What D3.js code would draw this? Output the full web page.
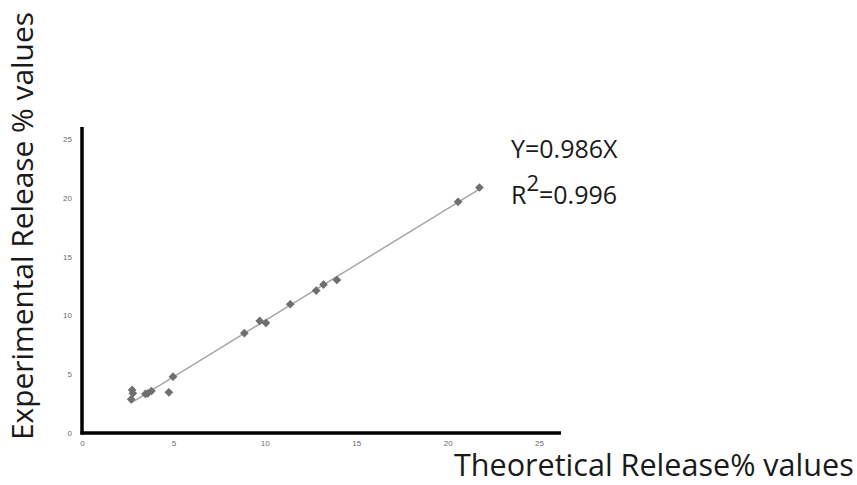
<!DOCTYPE html>
<html>
<head>
<meta charset="utf-8">
<script src="https://cdn.jsdelivr.net/npm/d3@7"></script>
<style>
  body { margin: 0; background: #fff; }
  svg { display: block; font-family: "Open Sans", sans-serif; }
  .tick text { fill: #6b6b6b; font-size: 8px; }
</style>
</head>
<body>
<div id="chart"></div>
<script>
// values
var theoretical = [2.74, 2.78, 2.69, 3.47, 3.6, 3.8, 4.75, 4.98, 8.88, 9.72, 10.06, 11.39, 12.81, 13.21, 13.94, 20.57, 21.74];
var experimental = [3.66, 3.37, 2.86, 3.32, 3.37, 3.57, 3.46, 4.79, 8.48, 9.52, 9.35, 10.94, 12.1, 12.61, 13.0, 19.64, 20.86];
var tickValues = [0, 5, 10, 15, 20, 25];
var eqText = "Y=0.986X";
var r2Text = "=0.996";

var width = 857;
var height = 485;

var svg = d3.select("#chart")
  .append("svg")
  .attr("width", width)
  .attr("height", height);

var xScale = d3.scaleLinear().domain([0, 26.2]).range([82, 561]);
var yScale = d3.scaleLinear().domain([0, 26]).range([433, 127]);

var points = theoretical.map(function(d, i) {
  return { x: d, y: experimental[i] };
});

// axes, tick labels only
var xAxis = d3.axisBottom(xScale).tickValues(tickValues).tickSize(0).tickPadding(7);
var yAxis = d3.axisLeft(yScale).tickValues(tickValues).tickSize(0).tickPadding(10);

var gx = svg.append("g")
  .attr("transform", "translate(0," + yScale(0) + ")")
  .call(xAxis);
gx.select(".domain").remove();

var gy = svg.append("g")
  .attr("transform", "translate(" + xScale(0) + ",0)")
  .call(yAxis);
gy.select(".domain").remove();

// thick black axis lines
svg.append("line")
  .attr("x1", xScale(0)).attr("x2", xScale(0))
  .attr("y1", yScale(26)).attr("y2", yScale(0) + 1.5)
  .attr("stroke", "#000").attr("stroke-width", 3.5);
svg.append("line")
  .attr("x1", xScale(0) - 1.5).attr("x2", xScale(26.2))
  .attr("y1", yScale(0)).attr("y2", yScale(0))
  .attr("stroke", "#000").attr("stroke-width", 3.5);

// trend line through origin, least squares
var sxy = d3.sum(points, function(d) { return d.x * d.y; });
var sxx = d3.sum(points, function(d) { return d.x * d.x; });
var slope = sxy / sxx;
var xmin = d3.min(theoretical);
var xmax = d3.max(theoretical);

svg.append("line")
  .attr("x1", xScale(xmin)).attr("y1", yScale(slope * xmin))
  .attr("x2", xScale(xmax)).attr("y2", yScale(slope * xmax))
  .attr("stroke", "#a6a6a6")
  .attr("stroke-width", 1.5);

// diamonds
svg.selectAll(".pt")
  .data(points)
  .enter()
  .append("path")
  .attr("class", "pt")
  .attr("d", d3.symbol().type(d3.symbolSquare).size(38))
  .attr("transform", function(d) {
    return "translate(" + xScale(d.x) + "," + yScale(d.y) + ") rotate(45)";
  })
  .attr("fill", "#6f6f6f");

// equation
svg.append("text")
  .attr("x", 511)
  .attr("y", 158)
  .attr("font-size", 25)
  .attr("fill", "#1a1a1a")
  .text(eqText);

var r2 = svg.append("text")
  .attr("x", 511)
  .attr("y", 204)
  .attr("font-size", 25)
  .attr("fill", "#1a1a1a");
r2.append("tspan").text("R");
r2.append("tspan").attr("dy", -13).attr("font-size", 22).text("2");
r2.append("tspan").attr("dy", 13).text(r2Text);

// axis titles, sized to the span they take in the picture
function fit(sel, w) {
  var len = sel.node().getComputedTextLength();
  var fs = parseFloat(sel.attr("font-size"));
  sel.attr("font-size", fs * w / len);
}

var xTitle = svg.append("text")
  .attr("x", 454)
  .attr("y", 476)
  .attr("font-size", 26)
  .attr("fill", "#1a1a1a")
  .text("Theoretical Release% values");
fit(xTitle, 400);

var yTitle = svg.append("text")
  .attr("transform", "translate(33,440) rotate(-90)")
  .attr("font-size", 26)
  .attr("fill", "#1a1a1a")
  .text("Experimental Release % values");
fit(yTitle, 428);
</script>
</body>
</html>
